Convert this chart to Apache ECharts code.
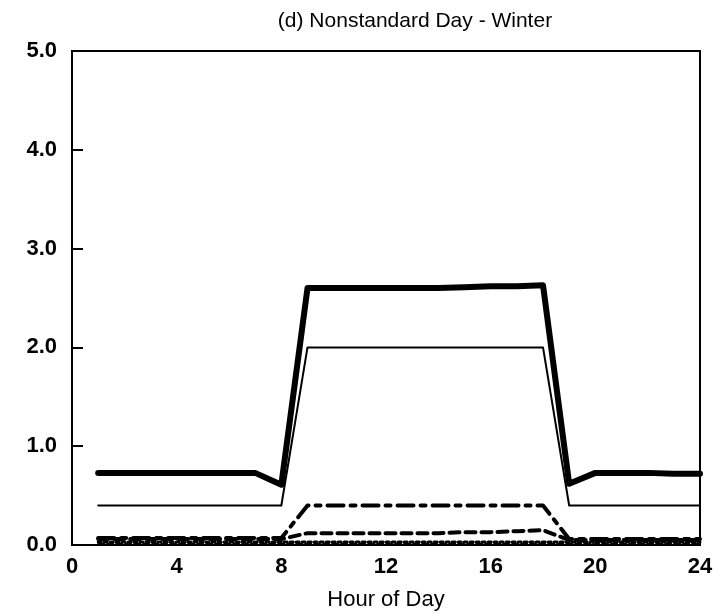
<!DOCTYPE html>
<html><head><meta charset="utf-8">
<script src="https://cdn.jsdelivr.net/npm/echarts@6/dist/echarts.min.js"></script>
<style>html,body{margin:0;padding:0;background:#fff}#c{width:720px;height:616px}</style>
</head><body><div id="c"></div>
<script>
var hours = [1,2,3,4,5,6,7,8,9,10,11,12,13,14,15,16,17,18,19,20,21,22,23,24];
var totalLoad = [0.73,0.73,0.73,0.73,0.73,0.73,0.73,0.61,2.60,2.60,2.60,2.60,2.60,2.60,2.61,2.62,2.62,2.63,0.62,0.73,0.73,0.73,0.72,0.72];
var thinLoad  = [0.40,0.40,0.40,0.40,0.40,0.40,0.40,0.40,2.00,2.00,2.00,2.00,2.00,2.00,2.00,2.00,2.00,2.00,0.40,0.40,0.40,0.40,0.40,0.40];
var dashDotLoad = [0.07,0.07,0.07,0.07,0.07,0.07,0.07,0.07,0.40,0.40,0.40,0.40,0.40,0.40,0.40,0.40,0.40,0.40,0.06,0.06,0.06,0.06,0.06,0.06];
var dashedLoad = [0.06,0.06,0.06,0.06,0.06,0.06,0.06,0.06,0.12,0.12,0.12,0.12,0.12,0.12,0.13,0.13,0.14,0.15,0.05,0.05,0.05,0.05,0.05,0.05];
var dottedLoad = [0.03,0.03,0.03,0.03,0.03,0.03,0.03,0.03,0.03,0.03,0.03,0.03,0.03,0.03,0.03,0.03,0.03,0.03,0.03,0.03,0.03,0.03,0.03,0.03];
var baseLoad = [0.01,0.01,0.01,0.01,0.01,0.01,0.01,0.01,0.01,0.01,0.01,0.01,0.01,0.01,0.01,0.01,0.01,0.01,0.01,0.01,0.01,0.01,0.01,0.01];
var xTicks = [0,4,8,12,16,20,24];
var yTicks = [0,1,2,3,4,5];

function pairs(v){ return hours.map(function(h,i){ return [h, v[i]]; }); }
function line(name, v, w, type){
  return {name:name, type:'line', data:pairs(v), symbol:'none', silent:true,
    lineStyle:{color:'#000', width:w, type:type, cap:'round', join:'round'}, z:3};
}
var chart = echarts.init(document.getElementById('c'), null, {renderer:'canvas'});
var font = '"Liberation Sans", Arial, sans-serif';
chart.setOption({
  animation:false,
  backgroundColor:'#fff',
  title:{text:'(d) Nonstandard Day - Winter', left:410, top:6, textAlign:'center',
    textStyle:{fontFamily:font, fontSize:21, fontWeight:'normal', color:'#000'}},
  grid:{left:72, right:20, top:51, bottom:71, show:true, borderColor:'#000', borderWidth:2, backgroundColor:'transparent'},
  xAxis:{type:'value', min:xTicks[0], max:xTicks[xTicks.length-1], interval:4,
    name:'Hour of Day', nameLocation:'middle', nameGap:44,
    nameTextStyle:{fontFamily:font, fontSize:22, color:'#000'},
    axisLine:{lineStyle:{color:'#000', width:2}}, axisTick:{show:false}, splitLine:{show:false},
    axisLabel:{fontFamily:font, fontSize:22, fontWeight:'bold', color:'#000', margin:11,
      formatter:function(v){ return xTicks.indexOf(v)>=0 ? String(v) : ''; }}},
  yAxis:{type:'value', min:yTicks[0], max:yTicks[yTicks.length-1], interval:1,
    axisLine:{lineStyle:{color:'#000', width:2}},
    axisTick:{show:true, inside:true, length:11, lineStyle:{color:'#000', width:2}},
    splitLine:{show:false},
    axisLabel:{fontFamily:font, fontSize:22, fontWeight:'bold', color:'#000', margin:15,
      formatter:function(v){ return v.toFixed(1); }}},
  series:[
    line('total', totalLoad, 6, 'solid'),
    line('thin', thinLoad, 2, 'solid'),
    line('dashdot', dashDotLoad, 4, [16,7,5,7]),
    line('dashed', dashedLoad, 4, [10,6]),
    line('dotted', dottedLoad, 3, [3,3]),
    line('base', baseLoad, 2, [6,3])
  ]
});
</script></body></html>
